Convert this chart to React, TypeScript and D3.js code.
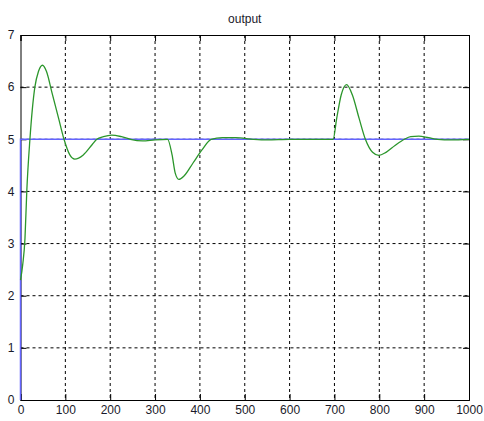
import React, { useEffect, useRef } from 'react';
import * as d3 from 'd3';

// data
const stepX = [0, 0, 1000];
const stepY = [0, 5, 5];
const outX = [0, 5, 10, 14, 21, 32, 40, 49, 58, 70, 85, 97, 110, 121, 140, 160, 170, 185, 203, 225, 245, 272, 300, 328, 338, 345, 353, 365, 385, 405, 425, 450, 480, 520, 550, 600, 650, 697, 705, 715, 727, 740, 755, 769, 785, 799, 815, 835, 856, 870, 888, 910, 930, 960, 1000];
const outY = [2.3, 2.6, 3.1, 4.0, 5.0, 6.0, 6.3, 6.42, 6.3, 5.9, 5.4, 5.0, 4.7, 4.62, 4.7, 4.9, 5.0, 5.05, 5.08, 5.05, 5.0, 4.97, 4.99, 5.0, 4.7, 4.35, 4.23, 4.3, 4.55, 4.8, 5.0, 5.03, 5.03, 5.0, 4.99, 5.0, 5.0, 5.0, 5.4, 5.85, 6.05, 5.85, 5.4, 5.0, 4.75, 4.69, 4.75, 4.88, 5.0, 5.05, 5.06, 5.03, 5.0, 4.99, 5.0];
const xTicks = [0, 100, 200, 300, 400, 500, 600, 700, 800, 900, 1000];
const yTicks = [0, 1, 2, 3, 4, 5, 6, 7];

export default function App() {
  const ref = useRef<SVGSVGElement>(null);

  useEffect(() => {
    const svg = d3.select(ref.current);
    svg.selectAll('*').remove();
    const width = 484;
    const height = 421;
    const margin = { top: 35, right: 15, bottom: 21, left: 20.5 };
    const innerWidth = width - margin.left - margin.right;
    const innerHeight = height - margin.top - margin.bottom;

    svg.append('rect').attr('width', width).attr('height', height).attr('fill', '#fff');

    const g = svg.append('g').attr('transform', `translate(${margin.left},${margin.top})`);
    const xScale = d3.scaleLinear().domain([0, 1000]).range([0, innerWidth]);
    const yScale = d3.scaleLinear().domain([0, 7]).range([innerHeight, 0]);

    // grid
    g.selectAll('.vgrid')
      .data(xTicks.slice(1, -1))
      .join('line')
      .attr('x1', (d) => xScale(d))
      .attr('x2', (d) => xScale(d))
      .attr('y1', 0)
      .attr('y2', innerHeight)
      .attr('stroke', '#000')
      .attr('stroke-dasharray', '3,3');
    g.selectAll('.hgrid')
      .data(yTicks.slice(1, -1))
      .join('line')
      .attr('y1', (d) => yScale(d))
      .attr('y2', (d) => yScale(d))
      .attr('x1', 0)
      .attr('x2', innerWidth)
      .attr('stroke', '#000')
      .attr('stroke-dasharray', '3,3');

    // axes with inward ticks
    const xAxis = d3.axisBottom(xScale).tickValues(xTicks).tickSize(-6).tickPadding(4).tickFormat(d3.format('d'));
    const yAxis = d3.axisLeft(yScale).tickValues(yTicks).tickSize(-6).tickPadding(6).tickFormat(d3.format('d'));
    const xa = g.append('g').attr('transform', `translate(0, ${innerHeight})`).call(xAxis);
    const ya = g.append('g').call(yAxis);
    g.append('g').call(d3.axisTop(xScale).tickValues(xTicks).tickSize(-6).tickFormat(() => ''));
    g.append('g').attr('transform', `translate(${innerWidth},0)`).call(d3.axisRight(yScale).tickValues(yTicks).tickSize(-6).tickFormat(() => ''));
    svg.selectAll('.domain').attr('stroke', '#000');
    [xa, ya].forEach((a) =>
      a.selectAll('text').attr('font-family', 'Arial, "Liberation Sans", sans-serif').attr('font-size', 12).attr('fill', '#1a1a2a')
    );
    xa.selectAll('.tick text').attr('dy', '0.8em');

    // lines
    const line = d3
      .line<number>()
      .x((d, i) => xScale(outX[i]))
      .y((d) => yScale(d))
      .curve(d3.curveMonotoneX);
    const stepLine = d3
      .line<number>()
      .x((d, i) => xScale(stepX[i]))
      .y((d) => yScale(d));
    g.append('path').attr('d', stepLine(stepY)).attr('fill', 'none').attr('stroke', '#6464ff').attr('stroke-width', 1.5);
    g.append('path').attr('d', line(outY)).attr('fill', 'none').attr('stroke', '#2b962b').attr('stroke-width', 1.3);

    svg
      .append('text')
      .attr('x', margin.left + innerWidth / 2)
      .attr('y', 23)
      .attr('text-anchor', 'middle')
      .attr('font-family', 'Arial, "Liberation Sans", sans-serif')
      .attr('font-size', 12)
      .attr('fill', '#1a1a2a')
      .text('output');
  }, []);

  return <svg ref={ref} width={484} height={421} style={{ position: 'fixed', left: 0, top: 0 }} />;
}
